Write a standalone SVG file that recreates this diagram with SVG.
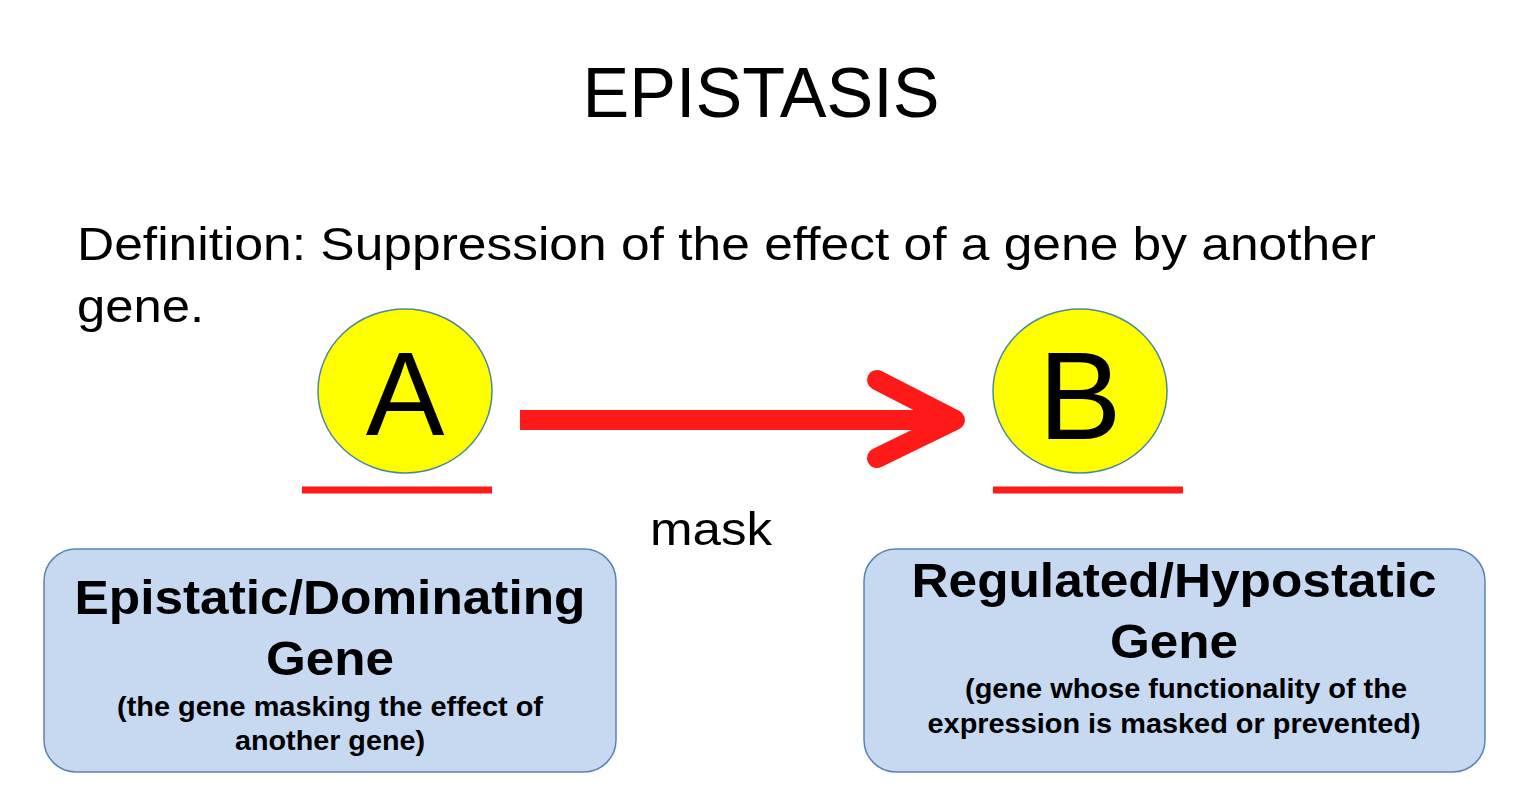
<svg xmlns="http://www.w3.org/2000/svg" width="1526" height="793" viewBox="0 0 1526 793">
<style>
text{font-family:"Liberation Sans",Arial,sans-serif;fill:#000}
.c{fill:#ffff00;stroke:#4a8a9a;stroke-width:1.5}
.u{stroke:#ff1a1a;stroke-width:7}
.box{fill:#c6d9f1;stroke:#5b84b5;stroke-width:1.5}
.b{font-weight:bold;text-anchor:middle}
</style>
<rect width="1526" height="793" fill="#fff"/>
<text x="761" y="117" font-size="70" text-anchor="middle" textLength="357" lengthAdjust="spacingAndGlyphs">EPISTASIS</text>
<text x="77" y="260" font-size="47" textLength="1299" lengthAdjust="spacingAndGlyphs">Definition: Suppression of the effect of a gene by another</text>
<text x="77" y="322" font-size="47" textLength="127" lengthAdjust="spacingAndGlyphs">gene.</text>
<g id="nodeA"><ellipse class="c" cx="405" cy="391" rx="87" ry="82"/><text x="405" y="435" font-size="118" text-anchor="middle">A</text><line class="u" x1="302" y1="490" x2="492" y2="490"/></g>
<g id="nodeB"><ellipse class="c" cx="1080" cy="391" rx="87" ry="82"/><text x="1080" y="439" font-size="125" text-anchor="middle">B</text><line class="u" x1="993" y1="490" x2="1183" y2="490"/></g>
<g id="connectors" stroke="#ff1a1a" stroke-width="20" fill="none">
<line x1="520" y1="420" x2="950" y2="420" stroke-linecap="butt"/>
<polyline points="877,380 955,420 877,458" stroke-linecap="round" stroke-linejoin="round"/>
<text x="711" y="545" font-size="46" text-anchor="middle" stroke="none" fill="#000" textLength="122" lengthAdjust="spacingAndGlyphs">mask</text>
</g>
<g id="boxLeft"><rect class="box" x="44" y="549" width="572" height="223" rx="32"/>
<text class="b" x="330" y="614" font-size="48" textLength="511" lengthAdjust="spacingAndGlyphs">Epistatic/Dominating</text>
<text class="b" x="330" y="675" font-size="48" textLength="128" lengthAdjust="spacingAndGlyphs">Gene</text>
<text class="b" x="330" y="716" font-size="28" textLength="426" lengthAdjust="spacingAndGlyphs">(the gene masking the effect of</text>
<text class="b" x="330" y="750" font-size="28" textLength="190" lengthAdjust="spacingAndGlyphs">another gene)</text></g>
<g id="boxRight"><rect class="box" x="864" y="549" width="621" height="223" rx="32"/>
<text class="b" x="1174" y="597" font-size="48" textLength="525" lengthAdjust="spacingAndGlyphs">Regulated/Hypostatic</text>
<text class="b" x="1174" y="658" font-size="48" textLength="128" lengthAdjust="spacingAndGlyphs">Gene</text>
<text class="b" x="1186" y="698" font-size="28" textLength="442" lengthAdjust="spacingAndGlyphs">(gene whose functionality of the</text>
<text class="b" x="1174" y="733" font-size="28" textLength="493" lengthAdjust="spacingAndGlyphs">expression is masked or prevented)</text></g>
</svg>
